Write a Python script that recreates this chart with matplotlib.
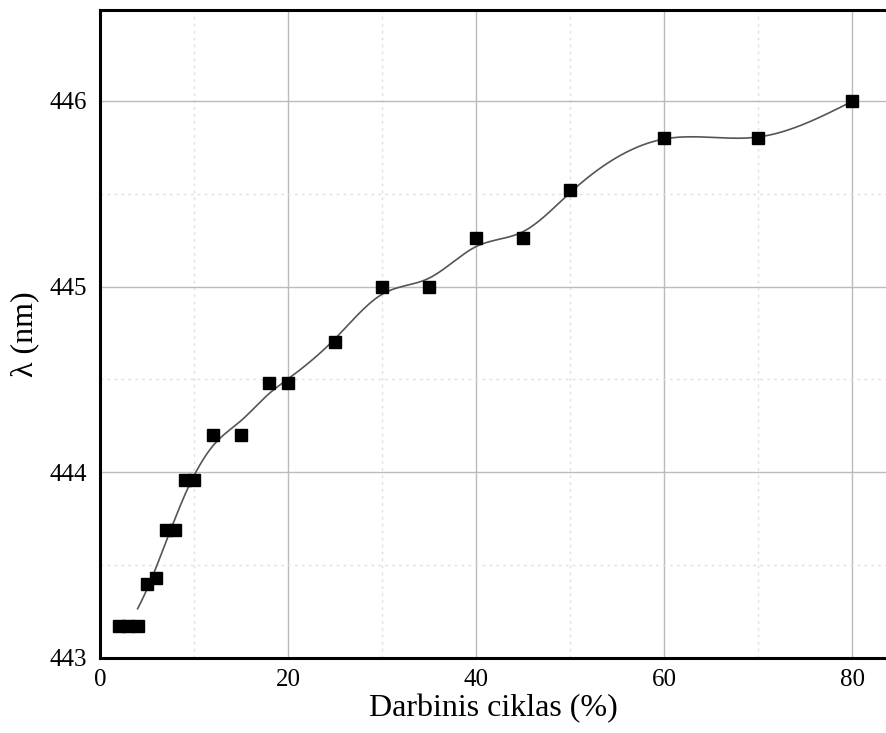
import numpy as np
import matplotlib.pyplot as plt
from matplotlib.ticker import MultipleLocator

# duty cycle (%) and wavelength (nm)
duty = [2, 3, 4, 5, 6, 7, 8, 9, 10, 12, 15, 18, 20, 25, 30, 35, 40, 45, 50, 60, 70, 80]
lam = [443.17, 443.17, 443.17, 443.40, 443.43, 443.69, 443.69, 443.96, 443.96,
       444.20, 444.20, 444.48, 444.48, 444.70, 445.00, 445.00, 445.26, 445.26,
       445.52, 445.80, 445.80, 446.00]


def smoothing_spline(x, y, lam_s, xs):
    # Reinsch cubic smoothing spline
    x = np.asarray(x, float)
    y = np.asarray(y, float)
    n = len(x)
    h = np.diff(x)
    Q = np.zeros((n, n - 2))
    R = np.zeros((n - 2, n - 2))
    for j in range(1, n - 1):
        Q[j - 1, j - 1] = 1 / h[j - 1]
        Q[j, j - 1] = -1 / h[j - 1] - 1 / h[j]
        Q[j + 1, j - 1] = 1 / h[j]
        R[j - 1, j - 1] = (h[j - 1] + h[j]) / 3
        if j < n - 2:
            R[j - 1, j] = h[j] / 6
            R[j, j - 1] = h[j] / 6
    gamma = np.linalg.solve(R + lam_s * Q.T @ Q, Q.T @ y)
    g = y - lam_s * Q @ gamma
    m = np.concatenate([[0], gamma, [0]])
    out = np.empty_like(xs)
    for k, xv in enumerate(xs):
        i = min(max(np.searchsorted(x, xv) - 1, 0), n - 2)
        hi = h[i]
        a = (x[i + 1] - xv) / hi
        b = (xv - x[i]) / hi
        out[k] = (a * g[i] + b * g[i + 1]
                  + ((a ** 3 - a) * m[i] + (b ** 3 - b) * m[i + 1]) * hi ** 2 / 6)
    return out


xs = np.linspace(4, 80, 600)
ys = smoothing_spline(duty, lam, 5.0, xs)

plt.rcParams['font.family'] = ['Liberation Serif', 'DejaVu Serif']

fig = plt.figure(figsize=(8.87, 7.33), dpi=100)
ax = fig.add_axes([100 / 887, 75 / 733, 787 / 887, 648 / 733])

ax.plot(xs, ys, color='#555555', lw=1.2, zorder=3)
ax.plot(duty, lam, 's', color='black', ms=8.5, zorder=4)

ax.set_xlim(0, 83.7)
ax.set_ylim(443, 446.49)
ax.xaxis.set_major_locator(MultipleLocator(20))
ax.xaxis.set_minor_locator(MultipleLocator(10))
ax.yaxis.set_major_locator(MultipleLocator(1))
ax.yaxis.set_minor_locator(MultipleLocator(0.5))
ax.grid(which='major', color='#bbbbbb', lw=1, ls='-')
ax.grid(which='minor', color='#e0e0e0', lw=1, ls=(0, (2, 3)))
ax.set_axisbelow(True)

ax.tick_params(which='both', length=0, labelsize=18)
ax.tick_params(axis='y', pad=9)
ax.tick_params(axis='x', pad=8)
for s in ['left', 'bottom', 'top']:
    ax.spines[s].set_linewidth(2.2)
ax.spines['right'].set_visible(False)

ax.set_xlabel('Darbinis ciklas (%)', fontsize=23, labelpad=2)
ax.set_ylabel('λ (nm)', fontsize=23, labelpad=8)

fig.savefig('out.png', dpi=100)
